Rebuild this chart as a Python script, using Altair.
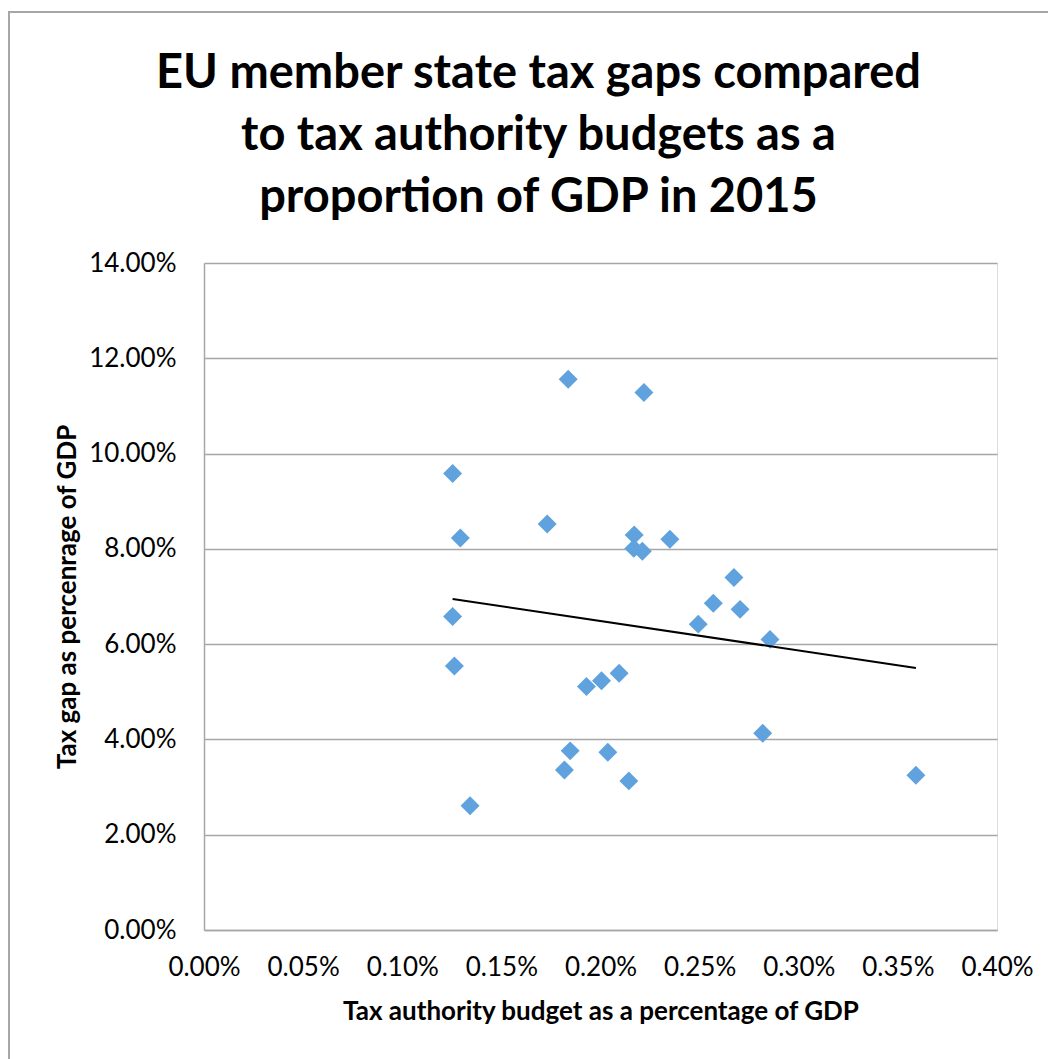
import altair as alt
import pandas as pd

budget_pct = [0.1837, 0.2219, 0.1254, 0.1293, 0.1731, 0.2170, 0.2168, 0.2211, 0.2350, 0.2673,
              0.1254, 0.1263, 0.1342, 0.1929, 0.2005, 0.2094, 0.1847, 0.1818, 0.2037, 0.2143,
              0.2493, 0.2569, 0.2704, 0.2855, 0.2818, 0.3591]
taxgap_pct = [11.56, 11.28, 9.58, 8.23, 8.52, 8.29, 8.01, 7.95, 8.20, 7.40,
              6.58, 5.54, 2.61, 5.11, 5.23, 5.39, 3.76, 3.36, 3.73, 3.13,
              6.42, 6.86, 6.73, 6.10, 4.13, 3.25]

df = pd.DataFrame({
    "budget": [v / 100 for v in budget_pct],
    "gap": [v / 100 for v in taxgap_pct],
})

FONT = "Lato"

x = alt.X("budget:Q",
          scale=alt.Scale(domain=[0, 0.004], nice=False, zero=True),
          axis=alt.Axis(title="Tax authority budget as a percentage of GDP", format=".2%",
                        values=[i * 0.0005 for i in range(9)], grid=False,
                        labelFlush=False, labelOverlap=False,
                        domainColor="#a6a6a6", domainWidth=1.5, ticks=False,
                        labelFontSize=26, labelFont=FONT, labelColor="#000000", labelPadding=24,
                        titleFontSize=26, titleFont=FONT, titleFontWeight="bold",
                        titleColor="#000000", titlePadding=18))
y = alt.Y("gap:Q",
          scale=alt.Scale(domain=[0, 0.14], nice=False),
          axis=alt.Axis(title="Tax gap as  percenrage of GDP", format=".2%",
                        values=[i * 0.02 for i in range(8)], grid=True,
                        labelFlush=False, labelOverlap=False,
                        gridColor="#a6a6a6", gridWidth=1.5,
                        domainColor="#a6a6a6", domainWidth=1.5, ticks=False,
                        labelFontSize=26, labelFont=FONT, labelColor="#000000", labelPadding=28,
                        titleFontSize=26, titleFont=FONT, titleFontWeight="bold",
                        titleColor="#000000", titlePadding=8))

points = alt.Chart(df).mark_point(shape="diamond", filled=True, size=360,
                                  color="#5fa2dd", opacity=1).encode(x=x, y=y)

trend = alt.Chart(df).transform_regression("budget", "gap", method="linear").mark_line(
    color="#000000", strokeWidth=2).encode(x="budget:Q", y="gap:Q")

# outer chart-area frame (top and left edges visible in the original)
frame_left = alt.Chart(df).mark_rule(color="#a6a6a6", strokeWidth=2, clip=False).encode(
    x=alt.value(-195), y=alt.value(-251), y2=alt.value(850))
frame_top = alt.Chart(df).mark_rule(color="#a6a6a6", strokeWidth=2, clip=False).encode(
    x=alt.value(-196), x2=alt.value(900), y=alt.value(-251))

chart = alt.layer(frame_left, frame_top, points, trend).properties(
    width=793, height=667,
    title=alt.TitleParams(
        text=["EU member state tax gaps compared", "to tax authority budgets as a",
              "proportion of GDP in 2015"],
        font=FONT, fontSize=47, fontWeight="bold", color="#000000",
        lineHeight=62, anchor="middle", dx=-62, offset=-211),
    autosize=alt.AutoSizeParams(type="none"),
    padding={"left": 196, "top": 255, "right": 51, "bottom": 129},
).configure_view(stroke=None).configure(background="#ffffff")

chart.save("out.html", embed_options={"renderer": "svg", "actions": False})
